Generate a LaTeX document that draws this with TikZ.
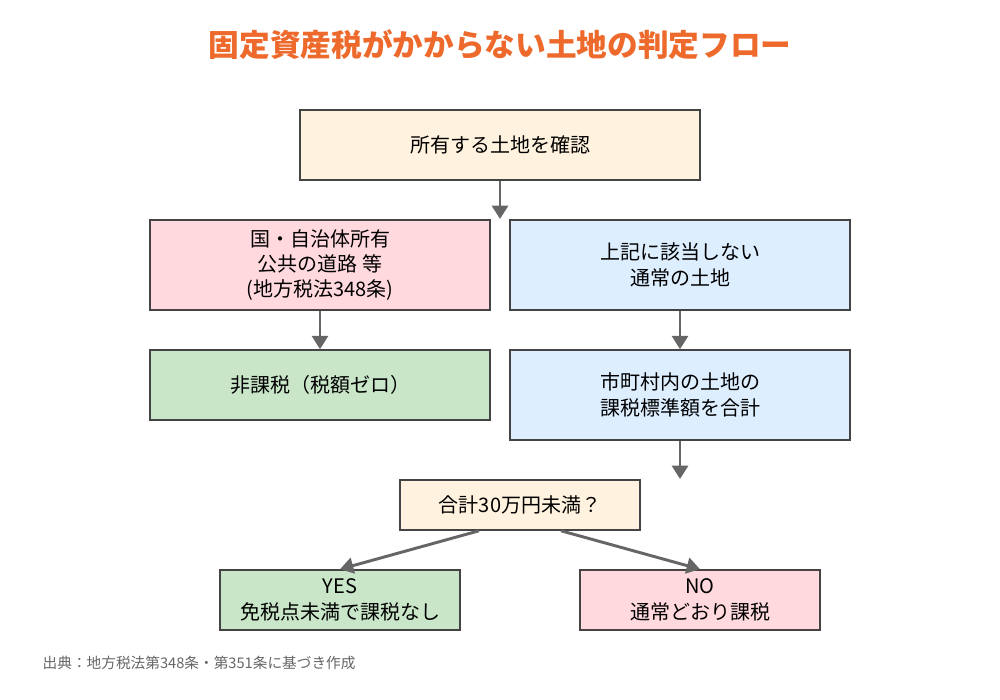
\documentclass[tikz,border=0pt]{standalone}
\usepackage{fontspec}
\setmainfont{Noto Sans CJK JP}
\usetikzlibrary{arrows.meta,calc}
\definecolor{ttl}{HTML}{EE6A2C}
\definecolor{cream}{HTML}{FFF2DE}
\definecolor{pinkf}{HTML}{FFD9DE}
\definecolor{bluef}{HTML}{DDEEFF}
\definecolor{greenf}{HTML}{C9E6C9}
\definecolor{edge}{HTML}{444444}
\definecolor{arr}{HTML}{666666}
\begin{document}
\begin{tikzpicture}[x=0.75pt,y=-0.75pt,
 box/.style={draw=edge,line width=1.2pt,align=center,font=\fontsize{15}{19}\selectfont,inner sep=0pt},
 ar/.style={draw=arr,line width=2.2pt,-{Triangle[length=10pt,width=12pt]}}]
\useasboundingbox (0,0) rectangle (1000,700);
\node[font=\fontsize{23}{26}\selectfont\bfseries,text=ttl] (t) at (500,45) {固定資産税がかからない土地の判定フロー};
\node[box,fill=cream,minimum width=300pt,minimum height=52.5pt] (a) at (500,145) {所有する土地を確認};
\node[box,fill=pinkf,minimum width=255pt,minimum height=67.5pt] (b) at (320,265) {国・自治体所有\\公共の道路 等\\(地方税法348条)};
\node[box,fill=bluef,minimum width=255pt,minimum height=67.5pt] (c) at (680,265) {上記に該当しない\\通常の土地};
\node[box,fill=greenf,minimum width=255pt,minimum height=52.5pt] (d) at (320,385) {非課税（税額ゼロ）};
\node[box,fill=bluef,minimum width=255pt,minimum height=67.5pt] (e) at (680,395) {市町村内の土地の\\課税標準額を合計};
\node[box,fill=cream,minimum width=180pt,minimum height=37.5pt] (f) at (520,505) {合計30万円未満？};
\node[box,fill=greenf,minimum width=180pt,minimum height=45pt] (g) at (340,600) {YES\\免税点未満で課税なし};
\node[box,fill=pinkf,minimum width=180pt,minimum height=45pt] (h) at (700,600) {NO\\通常どおり課税};
\node[anchor=west,font=\fontsize{11}{13}\selectfont,text=arr] (n) at (38,663) {出典：地方税法第348条・第351条に基づき作成};
\coordinate (a2) at (500,219);
\coordinate (f2) at (680,479);
\draw[ar] (a.south) -- (a2);
\draw[ar] (b.south) -- (d.north);
\draw[ar] (c.south) -- (e.north);
\draw[ar] (e.south) -- (f2);
\draw[ar] ($(f.south west)!0.33!(f.south east)$) -- (g.north);
\draw[ar] ($(f.south west)!0.67!(f.south east)$) -- (h.north);
\end{tikzpicture}
\end{document}
